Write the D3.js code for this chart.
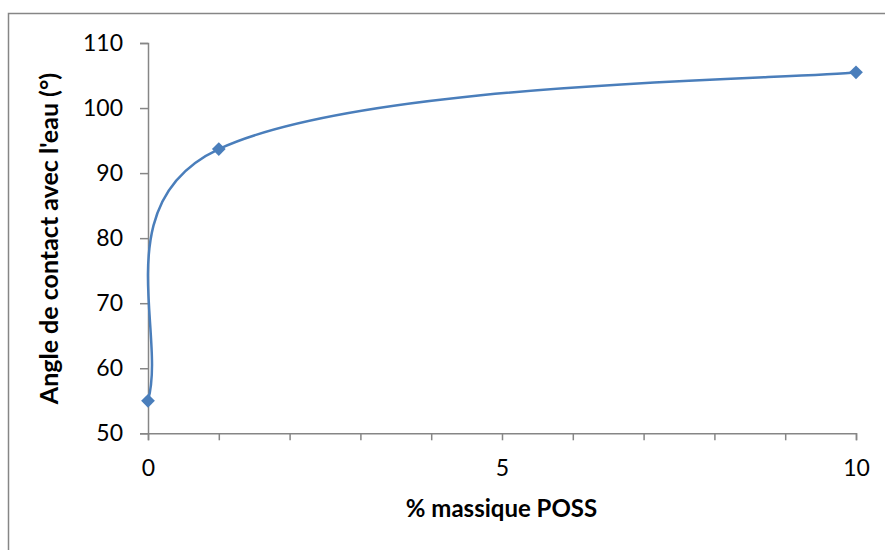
<!DOCTYPE html>
<html>
<head>
<meta charset="utf-8">
<script src="https://cdn.jsdelivr.net/npm/d3@7"></script>
<style>
  html, body { margin: 0; padding: 0; background: #fff; }
  svg { display: block; }
  text { font-family: Lato, "Open Sans", sans-serif; fill: #000; }
</style>
</head>
<body>
<svg id="chart" width="885" height="550"></svg>
<script>
// ---- data ----
const possPercent = [0, 1, 10];
const contactAngle = [55, 93.7, 105.5];
const yTicks = [50, 60, 70, 80, 90, 100, 110];
const xTicks = [0, 1, 2, 3, 4, 5, 6, 7, 8, 9, 10];
const xLabelled = [0, 5, 10];
const xTitle = "% massique POSS";
const yTitle = "Angle de contact avec l'eau (°)";

const W = 885, H = 550;
const plot = { left: 148, right: 856, top: 43, bottom: 433.3 };
const blue = "#4a7ebb", grey = "#868686";

const svg = d3.select("#chart");

// outer chart-area border (only top/left visible in frame)
svg.append("rect")
  .attr("x", 8.5).attr("y", 13.5)
  .attr("width", W + 40).attr("height", H + 40)
  .attr("fill", "none").attr("stroke", grey).attr("stroke-width", 1.5);

const x = d3.scaleLinear().domain([0, 10]).range([plot.left, plot.right]);
const y = d3.scaleLinear().domain([50, 110]).range([plot.bottom, plot.top]);

// y axis
const yAxis = svg.append("g")
  .attr("transform", `translate(${plot.left},0)`)
  .call(d3.axisLeft(y).tickValues(yTicks).tickSize(8).tickPadding(17).tickFormat(d3.format("d")));
// x axis
const xAxis = svg.append("g")
  .attr("transform", `translate(0,${plot.bottom})`)
  .call(d3.axisBottom(x).tickValues(xTicks).tickSize(7).tickPadding(19)
    .tickFormat(d => xLabelled.includes(d) ? d3.format("d")(d) : ""));

[yAxis, xAxis].forEach(g => {
  g.select(".domain").attr("stroke", grey).attr("stroke-width", 1.5);
  g.selectAll(".tick line").attr("stroke", grey).attr("stroke-width", 1.5);
  g.selectAll(".tick text").attr("font-family", "Lato, 'Open Sans', sans-serif")
    .attr("font-size", 23).attr("fill", "#000");
});

// Excel-like smoothed curve (cardinal-style Bezier with length-weighted tangents)
function curveExcel(context) {
  const pts = [];
  return {
    lineStart() { pts.length = 0; },
    lineEnd() {
      const n = pts.length;
      if (!n) return;
      context.moveTo(pts[0][0], pts[0][1]);
      if (n === 1) return;
      const f = 0.37, pw = 0.3, eStart = 0.27, eEnd = 0.1;
      const dist = (a, b) => Math.hypot(b[0] - a[0], b[1] - a[1]);
      const ctrl = pts.map((p, i) => {
        if (i === 0) {
          const t = [pts[1][0] - p[0], pts[1][1] - p[1]];
          return { out: [p[0] + eStart * t[0], p[1] + eStart * t[1]] };
        }
        if (i === n - 1) {
          const t = [p[0] - pts[i - 1][0], p[1] - pts[i - 1][1]];
          return { inn: [p[0] - eEnd * t[0], p[1] - eEnd * t[1]] };
        }
        const t = [pts[i + 1][0] - pts[i - 1][0], pts[i + 1][1] - pts[i - 1][1]];
        const dp = Math.pow(dist(pts[i - 1], p), pw), dn = Math.pow(dist(p, pts[i + 1]), pw);
        const wi = f * dp / (dp + dn), wo = f * dn / (dp + dn);
        return { inn: [p[0] - wi * t[0], p[1] - wi * t[1]], out: [p[0] + wo * t[0], p[1] + wo * t[1]] };
      });
      for (let i = 0; i < n - 1; i++) {
        const c1 = ctrl[i].out, c2 = ctrl[i + 1].inn, p = pts[i + 1];
        context.bezierCurveTo(c1[0], c1[1], c2[0], c2[1], p[0], p[1]);
      }
    },
    areaStart() {}, areaEnd() {},
    point(px, py) { pts.push([+px, +py]); }
  };
}

const data = possPercent.map((v, i) => ({ x: v, y: contactAngle[i] }));

svg.append("path")
  .datum(data)
  .attr("fill", "none")
  .attr("stroke", blue)
  .attr("stroke-width", 2.5)
  .attr("d", d3.line().x(d => x(d.x)).y(d => y(d.y)).curve(curveExcel));

svg.append("g").selectAll("path")
  .data(data)
  .join("path")
  .attr("transform", d => `translate(${x(d.x)},${y(d.y)})`)
  .attr("d", d3.symbol().type(d3.symbolDiamond2).size(120))
  .attr("fill", blue);

// axis titles
svg.append("text")
  .attr("x", (plot.left + plot.right) / 2 - 0.5)
  .attr("y", 517)
  .attr("text-anchor", "middle")
  .attr("font-size", 24).attr("font-weight", "bold")
  .text(xTitle);

svg.append("text")
  .attr("transform", `translate(58,238.5) rotate(-90)`)
  .attr("text-anchor", "middle")
  .attr("font-size", 25).attr("font-weight", "bold")
  .text(yTitle);
</script>
</body>
</html>
